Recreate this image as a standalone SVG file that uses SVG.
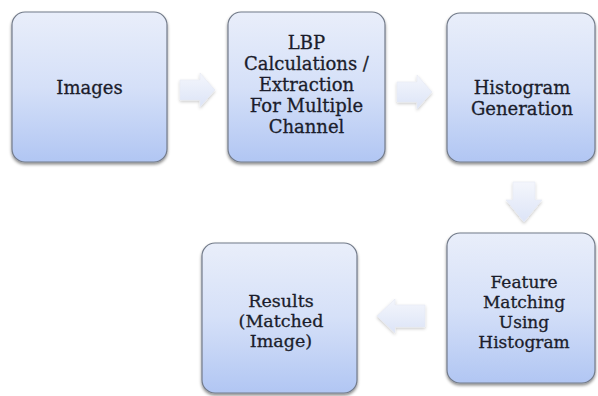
<svg xmlns="http://www.w3.org/2000/svg" width="598" height="396" viewBox="0 0 598 396">
<defs>
<linearGradient id="boxg" x1="0" y1="0" x2="0" y2="1">
<stop offset="0" stop-color="#e9eefa"/>
<stop offset="0.5" stop-color="#d5e0f8"/>
<stop offset="1" stop-color="#b1c6f3"/>
</linearGradient>
<linearGradient id="arrg" x1="0" y1="0" x2="0" y2="1">
<stop offset="0" stop-color="#f4f6fc"/>
<stop offset="1" stop-color="#dce4f7"/>
</linearGradient>
<filter id="sh" x="-20%" y="-20%" width="140%" height="140%">
<feDropShadow dx="0" dy="2" stdDeviation="1.8" flood-color="#000" flood-opacity="0.45"/>
</filter>
<filter id="ash" x="-30%" y="-30%" width="160%" height="160%">
<feDropShadow dx="0" dy="1.5" stdDeviation="1.5" flood-color="#000" flood-opacity="0.22"/>
</filter>
</defs>
<style>
.box{fill:url(#boxg);stroke:#737b8a;stroke-width:1.2;filter:url(#sh)}
.arr{fill:url(#arrg);stroke:#e6eaf4;stroke-width:0.6;filter:url(#ash)}
text{font-family:"DejaVu Serif","Liberation Serif",serif;font-size:18px;fill:#1b1d2b;stroke:#1b1d2b;stroke-width:0.3;text-anchor:middle}
</style>
<rect width="598" height="396" fill="#ffffff"/>
<g id="connectors">
<path class="arr" d="M180,80 H200 V73 L215,90 L200,107 V100 H180 Z"/>
<path class="arr" d="M397,82 H417 V75 L432,92 L417,109 V102 H397 Z"/>
<path class="arr" d="M513,182 V200 H506 L524,222 L542,200 H535 V182 Z"/>
<path class="arr" d="M425,305 H395 V299 L377,316 L395,333 V327 H425 Z"/>
</g>
<g id="node-images">
<rect class="box" x="12" y="12" width="155" height="150" rx="13"/>
<text x="89.5" y="94">Images</text>
</g>
<g id="node-lbp">
<rect class="box" x="228" y="12" width="157" height="150" rx="13"/>
<text x="306.5" y="49">LBP</text>
<text x="306.5" y="70">Calculations /</text>
<text x="306.5" y="91">Extraction</text>
<text x="306.5" y="112">For Multiple</text>
<text x="306.5" y="133">Channel</text>
</g>
<g id="node-histogram">
<rect class="box" x="447" y="13" width="148" height="149" rx="13"/>
<text x="522" y="94">Histogram</text>
<text x="522" y="115">Generation</text>
</g>
<g id="node-feature">
<rect class="box" x="447" y="233" width="148" height="150" rx="13"/>
<text x="524" y="288" style="font-size:17px">Feature</text>
<text x="524" y="308" style="font-size:17px">Matching</text>
<text x="524" y="328" style="font-size:17px">Using</text>
<text x="524" y="348" style="font-size:17px">Histogram</text>
</g>
<g id="node-results">
<rect class="box" x="202" y="243" width="155" height="150" rx="13"/>
<text x="281" y="307" style="font-size:17.5px">Results</text>
<text x="281" y="327" style="font-size:17.5px">(Matched</text>
<text x="281" y="347" style="font-size:17.5px">Image)</text>
</g>
</svg>
